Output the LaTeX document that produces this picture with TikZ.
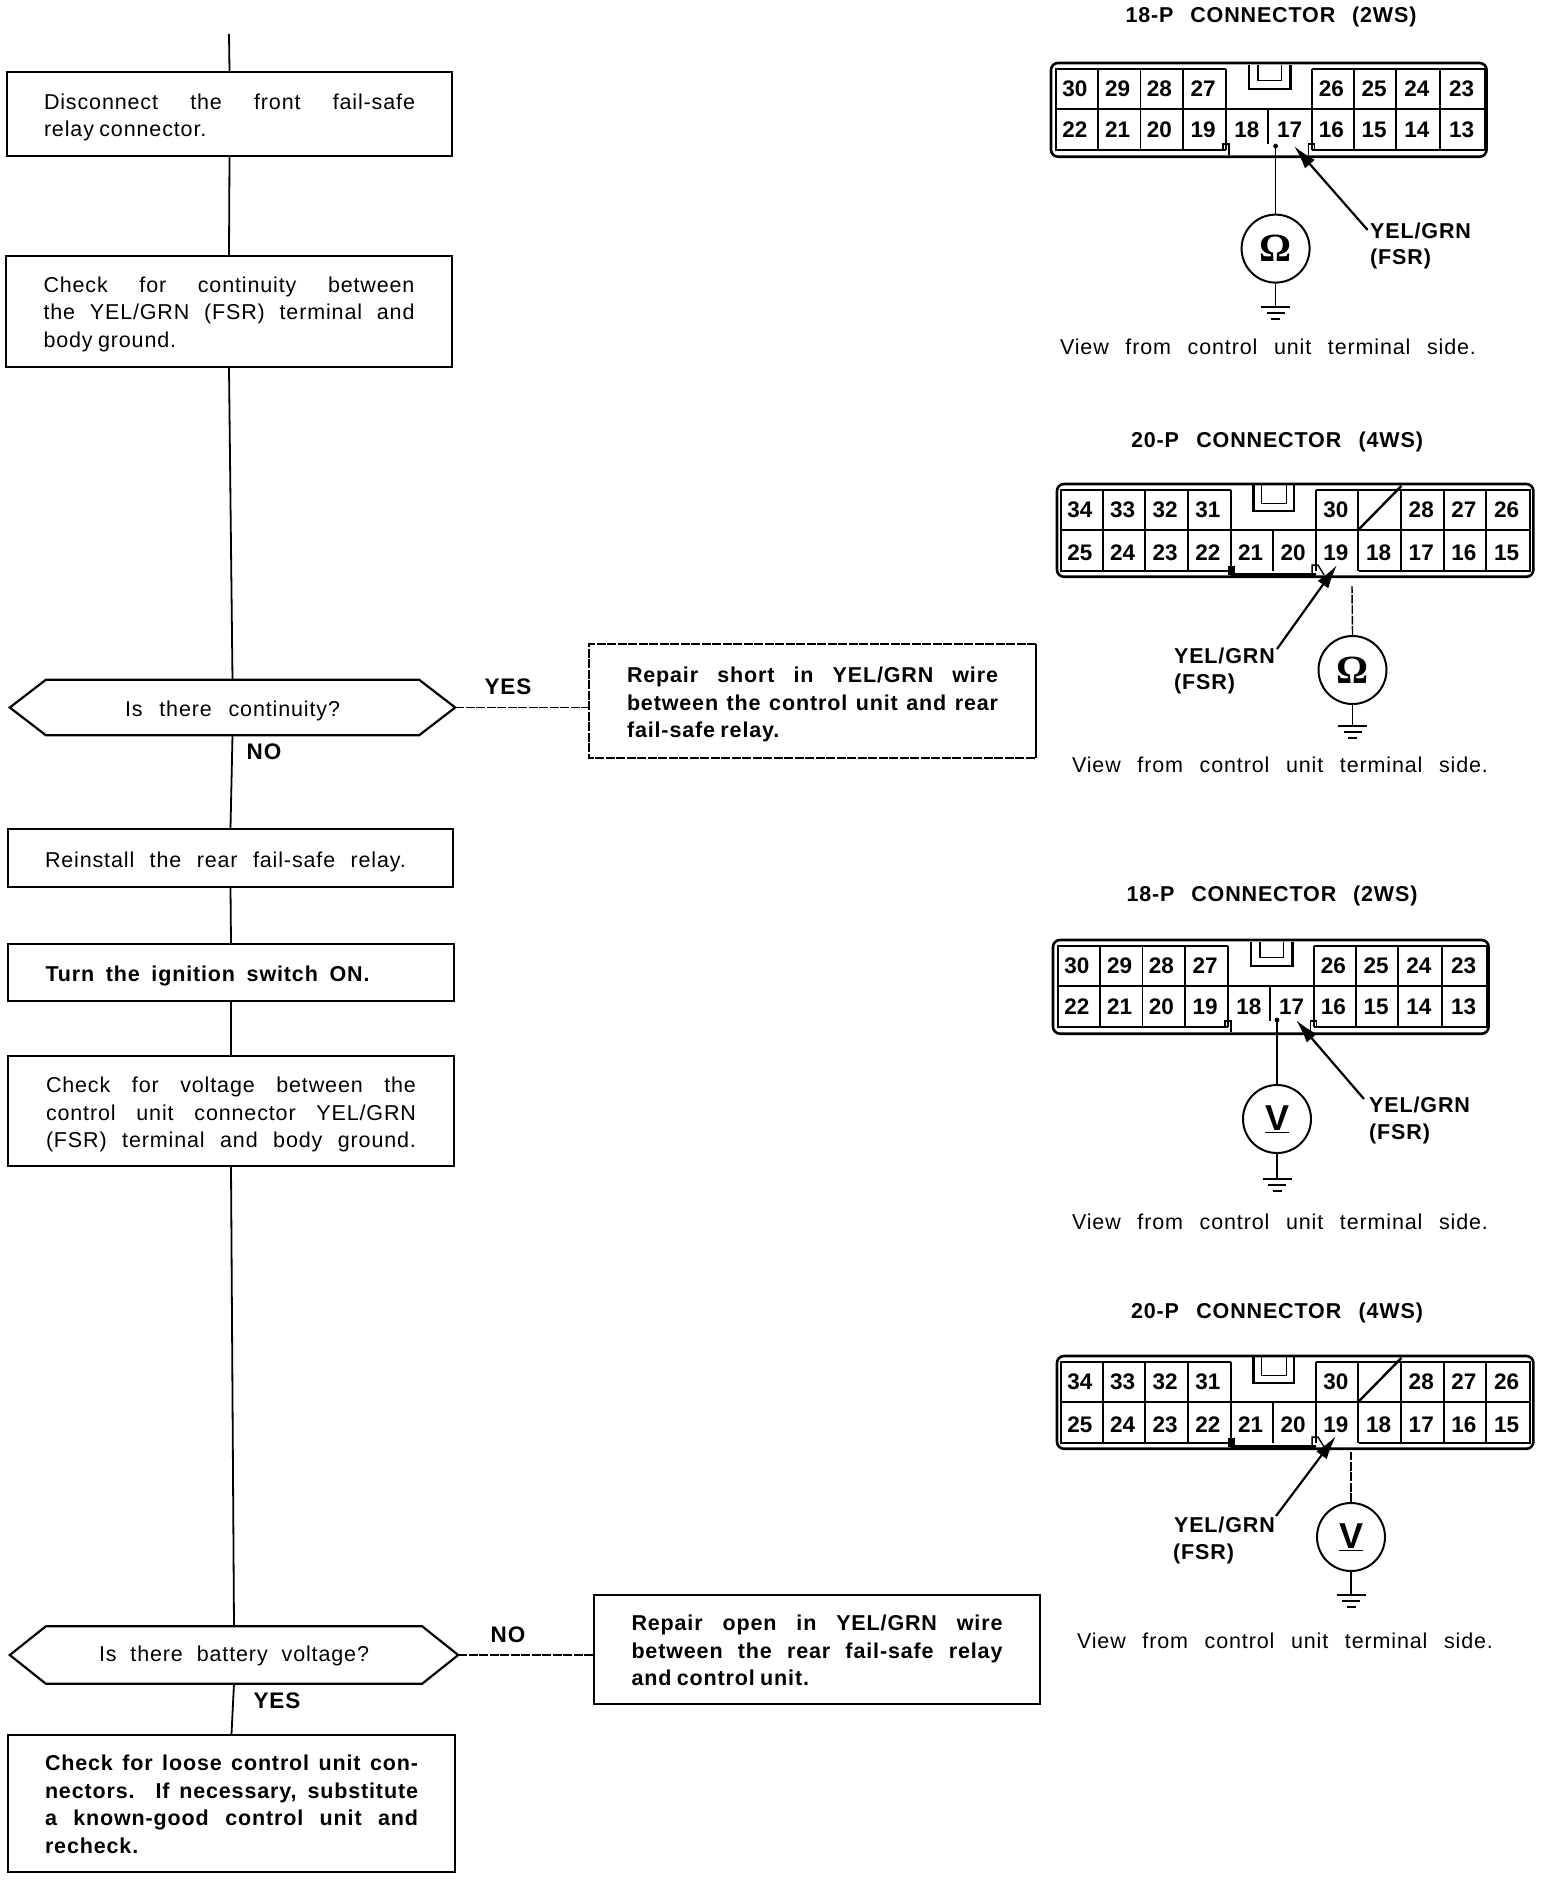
\documentclass[tikz,border=0pt]{standalone}
\usepackage{fontspec}
\setmainfont[LetterSpace=4]{Liberation Sans}
\newfontfamily\plainf{Liberation Sans}
\newfontfamily\omegaf{Liberation Serif}
\usetikzlibrary{arrows.meta,calc}
\newcommand\jl[2]{\hbox to #1pt{\spaceskip=.25em plus 1fil minus .12em\relax #2\hfill}}
\newcommand\jf[2]{\hbox to #1pt{\spaceskip=.25em plus 1fil minus .12em\relax #2}}
\newcommand\sz[1]{\fontsize{#1}{#1}\selectfont}
\newcommand\stack[2][7pt]{\vbox{\vskip#1\baselineskip=27.5pt\lineskiplimit=-20pt #2}}
\tikzset{
  x=1pt,y=-1pt,
  bx/.style={draw,line width=2pt,inner sep=0pt,font=\sz{21.5}},
  bxb/.style={bx,font=\bfseries\sz{21.5}},
  hexn/.style={inner sep=0pt,font=\sz{21.5}},
  link/.style={line width=1.8pt},
  dlink/.style={line width=1.8pt,dash pattern=on 9pt off 1.5pt},
  lab/.style={inner sep=0pt,font=\bfseries\sz{22.5}},
  ttl/.style={inner sep=0pt,font=\bfseries\sz{21.5}},
  num/.style={inner sep=0pt,font=\plainf\bfseries\sz{22.5}},
  view/.style={inner sep=0pt,font=\sz{21.5}},
  yf/.style={inner sep=0pt,anchor=west,font=\bfseries\sz{21.5}},
  grid/.style={line width=1.9pt},
  outer/.style={line width=2.6pt,rounded corners=7pt},
  meter/.style={circle,draw,line width=2pt,minimum size=68pt,inner sep=0pt},
  tipline/.style={line width=2.2pt,-{Latex[length=24pt,width=13pt]}},
  hook/.style={line width=1.4pt},
}
\newcommand\hexoutline[1]{\draw[line width=2.2pt] (#1.west) -- ([xshift=36pt]#1.north west) -- ([xshift=-36pt]#1.north east) -- (#1.east) -- ([xshift=-36pt]#1.south east) -- ([xshift=36pt]#1.south west) -- cycle;}
% 18-P connector
\newcommand\connA[3]{\begin{scope}[shift={(#2,#3)},shift={(1051,63)},xscale=.9945,yscale=.966,shift={(-1051,-63)}]
  \draw[outer] (1051,63) rectangle (1489,160);
  \draw[grid] (1227,69) -- (1056,69) -- (1056,153) -- (1227,153) (1056,111) -- (1487,111) (1313,153) -- (1487,153) -- (1487,69) -- (1313,69);
  \foreach \gx in {1098.5,1141,1184,1227,1313,1356,1398,1442} \draw[grid] (\gx,69) -- (\gx,153);
  \draw[grid] (1269,111) -- (1269,147);
  \draw[line width=2.4pt] (1250,65) -- (1250,90) -- (1292,90) -- (1292,65);
  \draw[line width=1.5pt] (1259,65) -- (1259,81) -- (1283,81) -- (1283,65);
  \draw[hook] (1224,153) -- (1224,147) -- (1230,147) -- (1230,158);
  \draw[hook] (1310,158) -- (1310,147) -- (1316,147) -- (1316,153);
  \foreach \nx/\t in {1075/30,1118/29,1160/28,1204/27,1333/26,1376/25,1419/24,1464/23}
    \node[num] (#1t\t) at (\nx,90) {\t};
  \foreach \nx/\t in {1075/22,1118/21,1160/20,1204/19,1248/18,1291/17,1333/16,1376/15,1419/14,1464/13}
    \node[num] (#1b\t) at (\nx,132) {\t};
\end{scope}}
% 20-P connector
\newcommand\connB[3]{\begin{scope}[shift={(#2,#3)},shift={(1057,484)},xscale=.9925,yscale=.966,shift={(-1057,-484)}]
  \draw[outer] (1057,484) rectangle (1537,580);
  \draw[grid] (1232,490) -- (1061,490) -- (1061,574) -- (1232,574) (1061,532) -- (1534,532) (1361,574) -- (1534,574) -- (1534,490) -- (1317.6,490);
  \foreach \gx in {1103,1146,1189,1232,1317.6,1360,1404,1447,1489} \draw[grid] (\gx,490) -- (\gx,574);
  \draw[grid] (1275,532) -- (1275,574);
  \draw[line width=2.4pt] (1255,485) -- (1255,512) -- (1296,512) -- (1296,485);
  \draw[line width=1.5pt] (1263,485) -- (1263,504) -- (1288,504) -- (1288,485);
  \draw[line width=2.4pt] (1361,531) -- (1404,486);
  \fill (1229,569) rectangle (1236,578);
  \draw[line width=3pt] (1232,578) -- (1318,578);
  \draw[hook] (1314,578) -- (1314,568) -- (1320,568) -- (1326,578);
  \foreach \nx/\t in {1080/34,1123/33,1166/32,1209/31,1338/30,1424/28,1467/27,1510/26}
    \node[num] (#1t\t) at (\nx,511) {\t};
  \foreach \nx/\t in {1080/25,1123/24,1166/23,1209/22,1252/21,1295/20,1338/19,1381/18,1424/17,1467/16,1510/15}
    \node[num] (#1b\t) at (\nx,555) {\t};
\end{scope}}
\newcommand\groundat[1]{\draw[line width=2.4pt] ($(#1)+(-14.5,0)$) -- ($(#1)+(14.5,0)$);
  \draw[line width=2pt] ($(#1)+(-9,6)$) -- ($(#1)+(9,6)$);
  \draw[line width=2pt] ($(#1)+(-4.5,12)$) -- ($(#1)+(4.5,12)$);}
\begin{document}
\begin{tikzpicture}
\useasboundingbox (0,0) rectangle (1552,1880);
\fill[white] (0,0) rectangle (1552,1880);
% ---------- flow
\coordinate (start) at (229,34);
\node[bx,minimum width=445pt,minimum height=84pt] (b1) at (229.5,114) {\stack{\jf{371}{Disconnect the front fail-safe}\jl{371}{relay connector.}}};
\node[bx,minimum width=446pt,minimum height=111pt] (b2) at (229,311.5) {\stack[5pt]{\jf{371}{Check for continuity between}\jf{371}{the YEL/GRN (FSR) terminal and}\jl{371}{body ground.}}};
\node[hexn,minimum width=445pt,minimum height=55pt] (h1) at (232.5,707.5) {\stack{\jf{215}{Is there continuity?}}};
\hexoutline{h1}
\node[bxb,draw=none,minimum width=445pt,minimum height=112pt] (b4) at (812.5,701) {\stack{\jf{371}{Repair short in YEL/GRN wire}\jf{371}{between the control unit and rear}\jl{371}{fail-safe relay.}}};
\draw[dlink] (b4.north east) -- (b4.north west) -- (b4.south west) -- (b4.south east);
\draw[line width=2pt] (b4.north east) -- (b4.south east);
\node[bx,minimum width=445pt,minimum height=58pt] (b3) at (230.5,858) {\stack{\jl{371}{\jf{361}{Reinstall the rear fail-safe relay.}}}};
\node[bx,minimum width=446pt,minimum height=57pt] (b5) at (231,972.5) {\stack{\bfseries\jl{371}{\jf{324}{Turn the ignition switch ON.}}}};
\node[bx,minimum width=446pt,minimum height=110pt] (b6) at (231,1111) {\stack{\jf{370}{Check for voltage between the}\jf{370}{control unit connector YEL/GRN}\jf{370}{(FSR) terminal and body ground.}}};
\node[hexn,minimum width=448pt,minimum height=57pt] (h2) at (234,1655) {\stack[2pt]{\jf{270}{Is there battery voltage?}}};
\hexoutline{h2}
\node[bxb,minimum width=446pt,minimum height=109pt] (b7) at (817,1649.5) {\stack[2pt]{\jf{371}{Repair open in YEL/GRN wire}\jf{371}{between the rear fail-safe relay}\jl{371}{and control unit.}}};
\node[bxb,minimum width=447pt,minimum height=137pt] (b8) at (231.5,1803.5) {\stack[2pt]{\jf{373}{Check for loose control unit con-}\jf{373}{nectors. If necessary, substitute}\jf{373}{a known-good control unit and}\jl{373}{recheck.}}};
\draw[link] (start) -- (b1.north);
\draw[link] (b1.south) -- (b2.north);
\draw[link] (b2.south) -- (h1.north);
\draw[link] (h1.south) -- (b3.north);
\draw[link] (b3.south) -- (b5.north);
\draw[link] (b5.south) -- (b6.north);
\draw[link] (b6.south) -- (h2.north);
\draw[link] (h2.south) -- (b8.north);
\draw[dlink] (h1.east) -- (h1.east -| b4.west);
\draw[dlink] (h2.east) -- (h2.east -| b7.west);
\node[lab] (yes1) at (508,687) {YES};
\node[lab] (no1) at (264,752) {NO};
\node[lab] (no2) at (508,1635) {NO};
\node[lab] (yes2) at (277,1701) {YES};
% ---------- A: 18-P ohm
\node[ttl] (ta) at (1271,17) {\jf{291}{18-P CONNECTOR (2WS)}};
\connA{a}{0}{0}
\node[meter] (ma) at (1275.6,248.6) {\omegaf\bfseries\sz{40}Ω};
\coordinate (wa) at (1275.6,146);
\coordinate (ga) at (1275.6,307);
\draw[line width=1.6pt] (ma.north) -- (wa);
\fill (wa) circle (2.4pt);
\draw[line width=1.6pt] (ma.south) -- (ga);
\groundat{ga}
\coordinate (taila) at (1367.6,230);
\coordinate (tipa) at (1294,146);
\draw[tipline] (taila) -- (tipa);
\node[yf] (la1) at (1370,231) {YEL/GRN};
\node[yf] (la2) at (1370,259) {(FSR)};
\node[view] (va) at (1268,347) {\jf{416}{View from control unit terminal side.}};
% ---------- B: 20-P ohm
\node[ttl] (tb) at (1277,442) {\jf{292}{20-P CONNECTOR (4WS)}};
\connB{b}{0}{0}
\node[meter] (mb) at (1352.5,670) {\omegaf\bfseries\sz{40}Ω};
\coordinate (wb) at (1352,586);
\coordinate (gb) at (1352.5,726);
\draw[dlink,line width=1.4pt] (mb.north) -- (wb);
\draw[line width=1.6pt] (mb.south) -- (gb);
\groundat{gb}
\coordinate (tailb) at (1277,649);
\coordinate (tipb) at (1337,565);
\draw[tipline] (tailb) -- (tipb);
\node[yf,anchor=east] (lb1) at (1275,656) {YEL/GRN};
\node[yf] (lb2) at (1174,684) {(FSR)};
\node[view] (vb) at (1280,765) {\jf{416}{View from control unit terminal side.}};
% ---------- C: 18-P volt
\node[ttl] (tc) at (1272,896) {\jf{291}{18-P CONNECTOR (2WS)}};
\connA{c}{2}{877}
\node[meter] (mc) at (1277,1119) {\bfseries\sz{36}\underline{V}};
\coordinate (wc) at (1277,1020);
\coordinate (gc) at (1277,1179);
\draw[line width=1.6pt] (mc.north) -- (wc);
\fill (wc) circle (2.4pt);
\draw[line width=1.6pt] (mc.south) -- (gc);
\groundat{gc}
\coordinate (tailc) at (1364,1099);
\coordinate (tipc) at (1296,1020);
\draw[tipline] (tailc) -- (tipc);
\node[yf] (lc1) at (1369,1105) {YEL/GRN};
\node[yf] (lc2) at (1369,1134) {(FSR)};
\node[view] (vc) at (1280,1222) {\jf{416}{View from control unit terminal side.}};
% ---------- D: 20-P volt
\node[ttl] (td) at (1277,1313) {\jf{292}{20-P CONNECTOR (4WS)}};
\connB{d}{0}{872}
\node[meter] (md) at (1351,1537) {\bfseries\sz{36}\underline{V}};
\coordinate (wd) at (1351,1452);
\coordinate (gd) at (1351,1595);
\draw[dlink,line width=1.4pt] (md.north) -- (wd);
\draw[line width=1.6pt] (md.south) -- (gd);
\groundat{gd}
\coordinate (taild) at (1276,1516);
\coordinate (tipd) at (1336,1436);
\draw[tipline] (taild) -- (tipd);
\node[yf,anchor=east] (ld1) at (1275,1525) {YEL/GRN};
\node[yf] (ld2) at (1173,1554) {(FSR)};
\node[view] (vd) at (1285,1641) {\jf{416}{View from control unit terminal side.}};
\end{tikzpicture}
\end{document}
